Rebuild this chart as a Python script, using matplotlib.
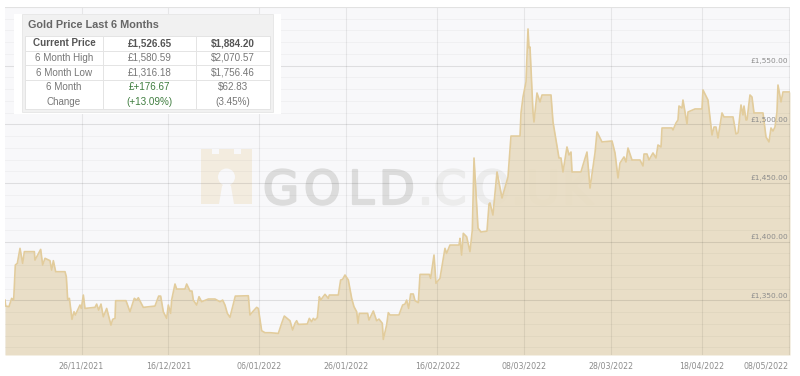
import matplotlib
matplotlib.use("Agg")
import matplotlib.pyplot as plt
import matplotlib.patheffects as pe
from matplotlib.patches import Rectangle, Polygon, Circle

# days counted from 26/11/2021
days = [
    -17.63, -17.47, -16.71, -16.09, -15.63, -15.25, -14.79, -14.17, -13.56, -13.17,
    -10.87, -10.72, -9.41, -8.95, -8.41, -7.26, -6.88, -6.49, -5.95, -3.8,
    -3.5, -3.19, -2.8, -2.19, -1.73, -1.42, -0.35, -0.04, 0.42, 0.8,
    3.11, 3.49, 3.95, 4.49, 5.03, 5.8, 6.79, 7.18, 7.72, 7.87,
    10.25, 11.17, 12.17, 12.71, 13.09, 14.24, 16.93, 17.78, 18.24, 18.85,
    19.62, 20.0, 20.54, 20.77, 21.54, 21.92, 23.84, 24.23, 25.0, 25.46,
    25.76, 26.53, 27.07, 27.68, 29.22, 30.76, 31.91, 32.52, 33.06, 33.6,
    34.21, 34.83, 35.44, 38.44, 38.82, 39.59, 40.36, 40.74, 41.51, 42.28,
    43.43, 45.35, 46.12, 46.73, 48.04, 48.65, 49.19, 49.57, 49.96, 52.03,
    52.49, 53.03, 53.41, 53.8, 54.34, 54.8, 55.1, 56.1, 56.87, 57.1,
    59.17, 59.71, 60.17, 60.71, 61.48, 62.25, 62.78, 63.4, 63.71, 64.01,
    65.93, 66.24, 67.24, 68.0, 68.54, 69.31, 69.54, 70.31, 70.69, 71.08,
    73.15, 74.0, 74.53, 74.92, 75.38, 75.84, 76.45, 76.84, 77.61, 78.0,
    80.14, 80.45, 81.22, 81.68, 82.6, 82.98, 83.75, 84.13, 84.9, 86.98,
    87.21, 87.59, 87.97, 88.74, 89.51, 90.05, 90.44, 91.36, 92.05, 93.43,
    93.9, 94.12, 94.8, 95.74, 96.89, 98.27, 98.96, 101.04, 101.27, 101.73,
    102.42, 102.88, 103.11, 103.34, 104.03, 104.26, 104.95, 105.65, 106.11, 108.18,
    108.64, 110.02, 110.48, 110.94, 111.86, 112.33, 112.79, 113.02, 115.09, 115.55,
    116.47, 117.17, 118.32, 118.78, 119.93, 122.24, 122.93, 123.62, 124.08, 125.0,
    125.46, 125.92, 126.84, 128.69, 129.38, 129.61, 130.3, 130.76, 131.68, 132.37,
    132.83, 133.53, 133.76, 136.06, 136.29, 136.98, 137.44, 137.67, 138.36, 138.59,
    139.52, 139.75, 141.36, 142.97, 143.2, 144.35, 145.28, 145.74, 146.2, 146.66,
    147.58, 148.04, 150.12, 150.81, 151.27, 151.96, 152.42, 152.65, 153.11, 153.34,
    154.03, 154.49, 154.95, 157.03, 157.72, 158.41, 158.87, 159.33, 159.79, 160.25,
    160.48, 161.18, 161.64, 163.25,
]
prices = [
    1350.2, 1345.1, 1344.6, 1351.7, 1350.2, 1380.1, 1381.5, 1394.3, 1381.5, 1391.5,
    1391.5, 1384.3, 1393.4, 1380.1, 1385.8, 1383.8, 1375.8, 1383.8, 1374.4, 1374.4,
    1370.1, 1350.8, 1351.7, 1333.8, 1340.3, 1337.5, 1346.0, 1343.1, 1354.5, 1343.1,
    1344.0, 1346.8, 1341.7, 1346.8, 1336.0, 1343.1, 1328.9, 1333.8, 1334.6, 1349.7,
    1349.7, 1340.3, 1351.7, 1350.2, 1352.2, 1344.0, 1345.1, 1353.6, 1353.6, 1340.3,
    1334.6, 1346.0, 1338.9, 1350.2, 1363.9, 1359.6, 1359.6, 1363.9, 1357.9, 1357.9,
    1350.2, 1346.0, 1353.1, 1348.8, 1351.1, 1351.1, 1348.8, 1350.2, 1346.0, 1338.9,
    1335.5, 1344.6, 1353.6, 1353.9, 1337.5, 1340.9, 1344.0, 1343.1, 1324.1, 1322.4,
    1322.4, 1321.8, 1330.4, 1336.6, 1332.6, 1324.7, 1330.4, 1332.6, 1329.5, 1329.8,
    1334.6, 1331.8, 1334.6, 1333.2, 1335.2, 1353.1, 1350.2, 1355.1, 1351.7, 1354.5,
    1354.5, 1367.3, 1367.9, 1371.6, 1367.3, 1351.7, 1344.6, 1340.3, 1330.4, 1338.9,
    1338.9, 1333.2, 1340.9, 1332.6, 1334.0, 1330.4, 1316.7, 1329.0, 1339.5, 1337.5,
    1337.5, 1346.0, 1346.8, 1350.2, 1343.1, 1355.4, 1355.4, 1349.7, 1348.0, 1372.1,
    1372.1, 1368.7, 1388.6, 1364.5, 1368.7, 1377.2, 1394.3, 1390.0, 1397.1, 1397.1,
    1402.8, 1388.6, 1407.1, 1404.2, 1391.5, 1409.9, 1471.3, 1411.6, 1408.2, 1409.0,
    1432.1, 1433.0, 1422.7, 1459.4, 1437.2, 1455.1, 1490.0, 1490.0, 1509.7, 1523.3,
    1536.1, 1581.3, 1565.1, 1565.9, 1510.5, 1502.0, 1526.7, 1519.1, 1525.0, 1525.0,
    1502.0, 1471.3, 1471.3, 1459.4, 1480.7, 1473.9, 1476.4, 1459.4, 1459.4, 1465.3,
    1476.4, 1445.7, 1475.6, 1493.5, 1485.0, 1485.8, 1475.6, 1454.3, 1467.0, 1472.2,
    1467.9, 1479.8, 1469.6, 1469.6, 1464.5, 1474.7, 1474.7, 1469.6, 1475.6, 1471.3,
    1482.4, 1480.7, 1496.9, 1496.9, 1495.2, 1501.1, 1503.7, 1515.6, 1513.9, 1520.7,
    1500.3, 1510.5, 1513.1, 1513.1, 1529.3, 1520.7, 1490.9, 1497.7, 1497.7, 1488.4,
    1509.7, 1506.3, 1506.3, 1491.8, 1492.6, 1516.5, 1508.0, 1515.6, 1503.7, 1503.7,
    1525.0, 1523.3, 1509.7, 1509.7, 1489.2, 1485.0, 1496.9, 1494.3, 1497.7, 1510.5,
    1533.5, 1519.1, 1527.6, 1527.6,
]

tick_days = [0, 20, 41, 61, 82, 102, 122, 143, 163]
tick_labels = ["26/11/2021", "16/12/2021", "06/01/2022", "26/01/2022", "16/02/2022",
               "08/03/2022", "28/03/2022", "18/04/2022", "08/05/2022"]
price_ticks = [1350, 1400, 1450, 1500, 1550]
minor_ticks = [p for p in range(1310, 1600, 10) if p % 50 != 0]

table_title = "Gold Price Last 6 Months"
row_names = ["Current Price", "6 Month High", "6 Month Low", "6 Month\nChange"]
gbp_col = ["£1,526.65", "£1,580.59", "£1,316.18", "£+176.67\n(+13.09%)"]
usd_col = ["$1,884.20", "$2,070.57", "$1,756.46", "$62.83\n(3.45%)"]

fig = plt.figure(figsize=(8, 3.76), dpi=100, facecolor="white")

# back layer in pixels, for the watermark
back = fig.add_axes([0, 0, 1, 1], zorder=0)
back.set_xlim(0, 800)
back.set_ylim(376, 0)
back.axis("off")
back.add_patch(Rectangle((5, 7), 785, 348, fc="#f8f8fa", ec="none"))
logo = [(201, 149), (212, 149), (212, 154), (219, 154), (219, 149), (234, 149), (234, 154),
        (241, 154), (241, 149), (252, 149), (252, 204), (234, 204), (231, 186), (222, 186),
        (219, 204), (201, 204)]
back.add_patch(Polygon(logo, closed=True, fc="#f3ecdf", ec="none"))
back.add_patch(Circle((226.5, 177), 8.5, fc="#f8f8fa", ec="none"))
back.add_patch(Polygon([(223, 180), (230, 180), (232, 204), (221, 204)], closed=True,
                       fc="#f8f8fa", ec="none"))
mark_letters = ["G", "O", "L", "D", ".", "C", "O", ".", "U", "K"]
mark_x = [263, 304, 348, 379, 418, 434, 474, 511, 526, 562]
mark_cols = ["#dcdcdc"] * 4 + ["#ececec"] * 6
for letter, x, col in zip(mark_letters, mark_x, mark_cols):
    back.text(x, 204, letter, fontsize=33.5, color=col, va="baseline", ha="left",
              path_effects=[pe.withStroke(linewidth=1.6, foreground=col)])

ax = fig.add_axes([5 / 800, 21 / 376, 785 / 800, 348 / 376], zorder=1)
ax.patch.set_alpha(0)
ax.fill_between(days, prices, 1303.4, color="#e8dbc0", alpha=0.88, lw=0, zorder=2)
ax.plot(days, prices, color="#e2cc9c", lw=1.2, zorder=3)
ax.set_xlim(-17.63, 163.25)
ax.set_ylim(1303.4, 1600)
ax.set_xticks(tick_days)
ax.set_xticklabels(tick_labels)
ax.set_yticks(price_ticks)
ax.set_yticks(minor_ticks, minor=True)
ax.set_yticklabels([])
ax.tick_params(which="both", length=0)
ax.tick_params(axis="x", labelsize=5.7, labelcolor="#8c8c8c", pad=4.5)
ax.get_xticklabels()[-1].set_ha("right")
for spine in ax.spines.values():
    spine.set_visible(False)
ax.axhline(1600, color="#e2e2e2", lw=0.8, zorder=4)
ax.set_axisbelow(False)
ax.grid(True, which="major", axis="y", color="#000000", alpha=0.1, lw=0.8, zorder=4)
ax.grid(True, which="major", axis="x", color="#000000", alpha=0.07, lw=0.8, zorder=4)
ax.grid(True, which="minor", axis="y", color="#000000", alpha=0.03, lw=0.8, zorder=4)
for p in price_ticks:
    ax.annotate(f"£{p:,}.00", (163.25, p), xytext=(-1.5, 3.3), textcoords="offset points",
                ha="right", va="center", fontsize=5.3, color="#8c8c8c", zorder=6)

# summary box on top, again in pixels
box = fig.add_axes([0, 0, 1, 1], zorder=2)
box.set_xlim(0, 800)
box.set_ylim(376, 0)
box.axis("off")
box.patch.set_alpha(0)
box.add_patch(Rectangle((14, 14), 267, 100, fc="white", ec="none"))
box.add_patch(Rectangle((22, 14), 251, 98, fc="#f1f1f1", ec="#e6e6e6", lw=0.6))
box.add_patch(Rectangle((25, 36), 245, 73, fc="white", ec="#e4e4e4", lw=0.7))
box.text(28, 25, table_title, fontsize=7.8, fontweight="bold", color="#666666",
         family="Liberation Sans", va="center")
for x in [103, 196]:
    box.plot([x, x], [36, 109], color="#e4e4e4", lw=0.7)
row_edges = [36, 51, 65, 80, 109]
for y in row_edges[1:-1]:
    box.plot([25, 270], [y, y], color="#e4e4e4", lw=0.7)
for i in range(len(row_names)):
    y = (row_edges[i] + row_edges[i + 1]) / 2
    weight = "bold" if i == 0 else "normal"
    col = "#555555" if i == 0 else "#777777"
    box.text(64, y, row_names[i], fontsize=7.15, fontweight=weight, color=col, ha="center", va="center",
             family="Liberation Sans", linespacing=1.55)
    box.text(149.5, y, gbp_col[i], fontsize=7.15, fontweight=weight,
             color="#3f7d3f" if i == 3 else col, ha="center", va="center",
             family="Liberation Sans", linespacing=1.55)
    box.text(233, y, usd_col[i], fontsize=7.15, fontweight=weight, color=col, ha="center", va="center",
             family="Liberation Sans", linespacing=1.55)

fig.savefig("out.png", dpi=100)
